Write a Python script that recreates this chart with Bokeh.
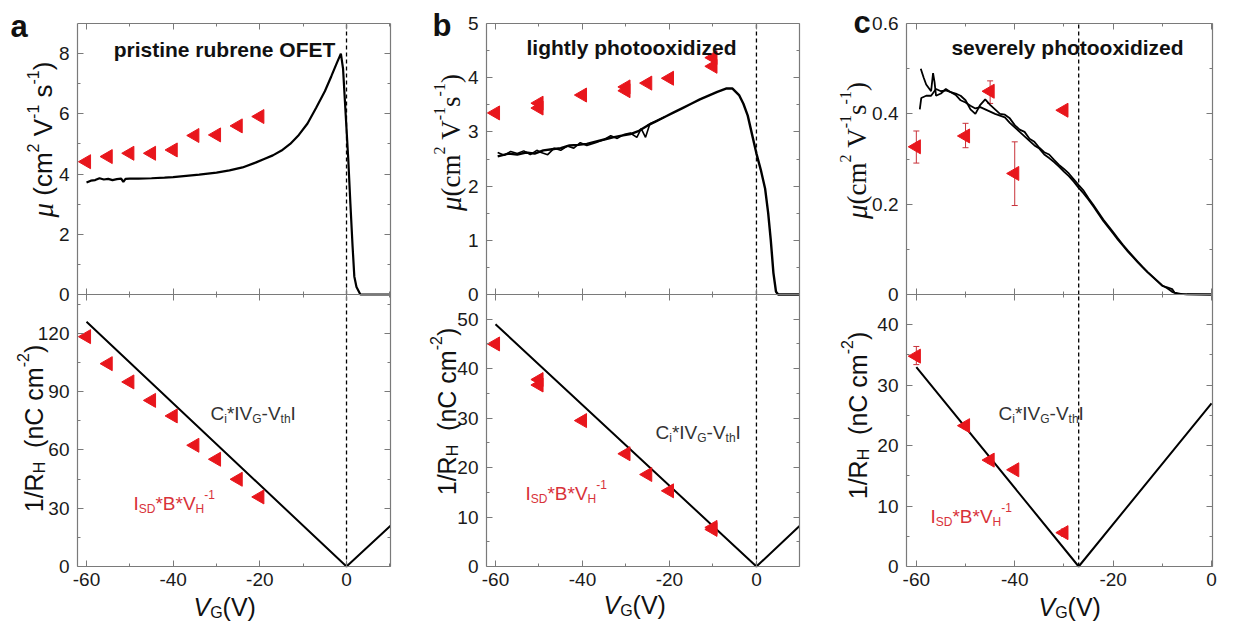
import numpy as np
from bokeh.plotting import figure
from bokeh.models import (Label, LinearAxis, FixedTicker, CustomJSTickFormatter,
                          ColumnDataSource, Whisker, TeeHead, Range1d)
from bokeh.embed import file_html
from bokeh.resources import INLINE

# ---------------- data ----------------
# panel a : pristine rubrene OFET
a_curve_vg = [-60, -59, -58, -57, -56, -55, -54, -53, -52, -51.5, -51, -50, -48, -45, -42, -40, -37, -34,
              -30, -27, -24, -21, -19, -17, -15, -13, -11, -9, -7, -5, -3.5, -2.2, -1.3, -0.8, -0.2,
              0.4, 0.9, 1.4, 1.8, 2.3, 3.2, 10.2]
a_curve_mu = [3.72, 3.78, 3.80, 3.86, 3.82, 3.84, 3.80, 3.83, 3.85, 3.74, 3.84, 3.85, 3.85, 3.86, 3.88, 3.90,
              3.94, 3.98, 4.05, 4.12, 4.22, 4.38, 4.50, 4.62, 4.78, 5.00, 5.30, 5.68, 6.20, 6.75, 7.25,
              7.70, 8.00, 7.50, 6.00, 4.50, 3.00, 1.60, 0.60, 0.25, 0.0, 0.0]
a_hall_vg = [-60, -55, -50, -45, -40, -35, -30, -25, -20]
a_hall_mu = [4.41, 4.58, 4.69, 4.69, 4.80, 5.28, 5.30, 5.60, 5.91]
a_hall_n = [118.3, 104.4, 95.0, 85.5, 77.5, 62.4, 55.2, 44.9, 35.8]
a_fit_vg = [-60, 0, 10.15]
a_fit_n = [126, 0, 21]

# panel b : lightly photooxidized
b_curve1_vg = [-59.5, -57, -55, -53, -51, -49, -47, -45, -43, -41, -39, -37, -35, -33, -31, -29, -27, -25,
               -23, -21, -19, -17, -15, -13, -11, -9, -7, -5.5, -4, -3, -2, -1, 0, 1, 2, 2.7, 3.3, 3.9,
               4.5, 5, 9.9]
b_curve1_mu = [2.55, 2.60, 2.58, 2.62, 2.60, 2.66, 2.68, 2.70, 2.75, 2.76, 2.78, 2.82, 2.86, 2.90, 2.93,
               2.96, 3.02, 3.12, 3.20, 3.28, 3.36, 3.44, 3.52, 3.60, 3.67, 3.74, 3.80, 3.80, 3.68, 3.52,
               3.30, 2.95, 2.60, 2.30, 1.95, 1.50, 1.00, 0.40, 0.05, 0.0, 0.0]
b_curve2_vg = [-59.5, -58, -56.5, -55, -53.5, -52, -50.5, -49.5, -48, -46.5, -45, -43.5, -42, -40.5, -39,
               -37, -35, -33.5, -32, -30.5, -29, -27.5, -26.5, -25.5, -24.5, -23, -21]
b_curve2_mu = [2.62, 2.57, 2.64, 2.60, 2.65, 2.58, 2.66, 2.62, 2.58, 2.70, 2.66, 2.74, 2.70, 2.80, 2.75,
               2.80, 2.86, 2.93, 2.88, 2.95, 2.98, 2.90, 3.06, 2.90, 3.15, 3.20, 3.28]
b_hall_vg = [-60, -50, -50, -40, -30, -30, -25, -20, -10, -10]
b_hall_mu = [3.35, 3.53, 3.44, 3.68, 3.83, 3.76, 3.90, 3.99, 4.37, 4.21]
b_hall_n_vg = [-60, -50, -50, -40, -30, -25, -20, -10, -10]
b_hall_n = [45.0, 37.8, 36.7, 29.5, 22.8, 18.6, 15.3, 7.9, 7.5]
b_fit_vg = [-60, 0, 9.9]
b_fit_n = [49, 0, 8.2]

# panel c : severely photooxidized
c_curve1_vg = [-59.3, -59, -58, -57, -56, -55, -54, -53, -52, -51, -50, -49, -48, -47, -46, -45, -44, -43,
               -42, -41, -40, -39, -38, -37, -36, -35, -34, -33, -32, -31, -30, -29, -28, -27, -26, -25,
               -24, -23, -22, -21, -20, -19, -18, -17, -16, -15, -14, -13, -12, -11, -10, -9, -8, -7,
               -5, 0]
c_curve1_mu = [0.410, 0.435, 0.440, 0.440, 0.455, 0.450, 0.452, 0.448, 0.445, 0.440, 0.430, 0.410, 0.400,
               0.420, 0.432, 0.420, 0.410, 0.400, 0.398, 0.390, 0.375, 0.365, 0.360, 0.345, 0.338, 0.325,
               0.315, 0.310, 0.298, 0.287, 0.278, 0.268, 0.255, 0.242, 0.230, 0.213, 0.198, 0.182, 0.166,
               0.152, 0.138, 0.124, 0.110, 0.097, 0.085, 0.073, 0.061, 0.050, 0.040, 0.030, 0.020, 0.014,
               0.006, 0.002, 0.0005, 0.0]
c_curve2_vg = [-59.1, -58.5, -58, -57, -56.6, -56.3, -56, -55, -54, -53, -52, -51, -50, -49, -48, -47, -46,
               -45, -44, -43, -42, -41, -40, -39, -38, -37, -36, -35, -34, -33, -32, -31, -30, -29, -28,
               -27, -26, -25, -24, -23, -22, -21, -20, -19, -18, -17, -16, -15, -14, -13, -12, -11, -10,
               -9, -8, -7.5, -6, 0]
c_curve2_mu = [0.500, 0.480, 0.465, 0.450, 0.490, 0.470, 0.440, 0.445, 0.455, 0.448, 0.442, 0.430, 0.425,
               0.418, 0.412, 0.415, 0.410, 0.405, 0.400, 0.396, 0.392, 0.380, 0.370, 0.360, 0.350, 0.340,
               0.330, 0.323, 0.310, 0.302, 0.293, 0.283, 0.272, 0.262, 0.250, 0.236, 0.224, 0.210, 0.195,
               0.179, 0.163, 0.149, 0.135, 0.121, 0.108, 0.095, 0.083, 0.071, 0.060, 0.049, 0.039, 0.029,
               0.019, 0.016, 0.012, 0.004, 0.001, 0.0]
c_hall_vg = [-60, -50, -45, -40, -30]
c_hall_mu = [0.327, 0.351, 0.450, 0.268, 0.408]
c_err_vg = [-60, -50, -45, -40]
c_err_lo = [0.291, 0.325, 0.423, 0.197]
c_err_hi = [0.362, 0.379, 0.473, 0.338]
c_hall_n = [34.8, 23.3, 17.6, 16.0, 5.6]
c_nerr_lo = [33.4, 22.8, 17.1, 15.6, 5.0]
c_nerr_hi = [36.4, 23.8, 18.1, 16.4, 6.2]
c_fit_vg = [-60, -27, 0]
c_fit_n = [33, 0, 27]

v_th = [0, 0, -27]
titles = ["pristine rubrene OFET", "lightly photooxidized", "severely photooxidized"]
letters = ["a", "b", "c"]
x_lims = [(-62.08, 10.15), (-62.07, 9.9), (-62.0, 0.2)]
top_lims = [(0, 9), (0, 5), (0, 0.6)]
bot_lims = [(0, 140), (0, 55), (0, 45)]
x_major = [-60, -40, -20, 0]
x_minor = [[-50, -30, -10, 10], [-50, -30, -10], [-50, -30, -10]]
top_major = [[0, 2, 4, 6, 8], [0, 1, 2, 3, 4, 5], [0, 0.2, 0.4, 0.6]]
top_minor = [[1, 3, 5, 7], [0.5, 1.5, 2.5, 3.5, 4.5], [0.1, 0.3, 0.5]]
bot_major = [[0, 30, 60, 90, 120], [0, 10, 20, 30, 40, 50], [0, 10, 20, 30, 40]]
bot_minor = [[15, 45, 75, 105, 135], [5, 15, 25, 35, 45], [5, 15, 25, 35]]

# ---------------- geometry (canvas pixels) ----------------
W, H = 1217, 626
BOX_X = [(77, 390), (486, 799), (906, 1212)]
TOP_Y = (23, 294)
BOT_Y = (294, 566)

SANS = "Liberation Sans"
SERIF = "Liberation Serif"
RED = "#e8161c"
RED_TXT = "#d8323a"
ERR = "#c8323a"
AX = "#7a7a7a"
BLK = "#111111"
GRY = "#333333"
NB = "\u00a0"

p = figure(width=W, height=H, x_range=Range1d(0, W), y_range=Range1d(0, H), title=None,
           output_backend="svg", toolbar_location=None, x_axis_type=None, y_axis_type=None,
           min_border=0, min_border_left=0, min_border_right=0, min_border_top=0,
           min_border_bottom=0)
p.outline_line_color = None
p.background_fill_color = "white"
p.border_fill_color = "white"


def add_box(name, xlim, ylim, xpx, ypx):
    (x0, x1), (L, R) = xlim, xpx
    (y0, y1), (T, B) = ylim, ypx
    sx = (x1 - x0) / (R - L)
    sy = (y1 - y0) / (B - T)
    p.extra_x_ranges[name] = Range1d(x0 - L * sx, x0 + (W - L) * sx)
    p.extra_y_ranges[name] = Range1d(y0 - (H - B) * sy, y1 + T * sy)


def fmt(show):
    return CustomJSTickFormatter(code="return String(tick);" if show else "return '';")


def ax(name, side, loc, bounds, ticks, minor, show, standoff=6):
    a = LinearAxis(x_range_name=name, y_range_name=name, fixed_location=loc, bounds=bounds,
                   ticker=FixedTicker(ticks=ticks, minor_ticks=minor), formatter=fmt(show),
                   axis_line_color=AX, axis_line_width=1.2, major_tick_line_color=AX,
                   minor_tick_line_color=AX, major_tick_in=6, major_tick_out=0, minor_tick_in=3,
                   minor_tick_out=0, major_label_text_font=SANS, major_label_text_font_size="19px",
                   major_label_text_color="#1a1a1a", major_label_standoff=standoff)
    p.add_layout(a, side)
    return a


for i in range(3):
    for part, ylim, ypx, ymaj, ymin in (("t", top_lims[i], TOP_Y, top_major[i], top_minor[i]),
                                         ("b", bot_lims[i], BOT_Y, bot_major[i], bot_minor[i])):
        nm = f"{part}{i}"
        add_box(nm, x_lims[i], ylim, BOX_X[i], ypx)
        xl = x_lims[i]
        ax(nm, "left", xl[0], ylim, ymaj, ymin, True, standoff=8)
        ax(nm, "right", xl[1], ylim, ymaj, ymin, False)
        ax(nm, "above", ylim[1], xl, x_major, x_minor[i], False)
        ax(nm, "below", ylim[0], xl, x_major, x_minor[i], part == "b", standoff=6)
        # threshold-voltage dashed line
        p.segment(x0=[v_th[i]], x1=[v_th[i]], y0=[ylim[0]], y1=[ylim[1]], x_range_name=nm,
                  y_range_name=nm, line_color="black", line_width=1.3, line_dash="4 3")


def tri(nm, xs, ys):
    p.scatter(xs, ys, marker="triangle", angle=np.pi / 2, size=14, fill_color=RED,
              line_color=RED, x_range_name=nm, y_range_name=nm)


def curve(nm, xs, ys, w=2.0):
    p.line(xs, ys, line_color="black", line_width=w, x_range_name=nm, y_range_name=nm)


def whisk(nm, xs, lo, hi):
    src = ColumnDataSource(dict(x=xs, lo=lo, hi=hi))
    p.add_layout(Whisker(source=src, base="x", lower="lo", upper="hi", dimension="height",
                         x_range_name=nm, y_range_name=nm, line_color=ERR, line_width=1,
                         upper_head=TeeHead(size=6, line_color=ERR, line_width=1),
                         lower_head=TeeHead(size=6, line_color=ERR, line_width=1)))


# --- panel a ---
curve("t0", a_curve_vg, a_curve_mu, 2.2)
tri("t0", a_hall_vg, a_hall_mu)
curve("b0", a_fit_vg, a_fit_n)
tri("b0", a_hall_vg, a_hall_n)
# --- panel b ---
curve("t1", b_curve1_vg, b_curve1_mu, 2.4)
curve("t1", b_curve2_vg, b_curve2_mu, 1.6)
tri("t1", b_hall_vg, b_hall_mu)
curve("b1", b_fit_vg, b_fit_n)
tri("b1", b_hall_n_vg, b_hall_n)
# --- panel c ---
curve("t2", c_curve1_vg, c_curve1_mu, 1.8)
curve("t2", c_curve2_vg, c_curve2_mu, 1.8)
whisk("t2", c_err_vg, c_err_lo, c_err_hi)
tri("t2", c_hall_vg, c_hall_mu)
whisk("b2", c_hall_vg, c_nerr_lo, c_nerr_hi)
curve("b2", c_fit_vg, c_fit_n)
tri("b2", c_hall_vg, c_hall_n)

# ---------------- texts ----------------
W_SANS = {' ': .278, NB: .278, '(': .333, ')': .333, '*': .389, '-': .333, '/': .278, '1': .556,
          '2': .556, '0': .556, 'B': .667, 'C': .722, 'D': .722, 'G': .778, 'H': .722, 'I': .278,
          'R': .722, 'S': .667, 'V': .667, 'c': .5, 'h': .556, 'i': .222, 'm': .833, 'n': .556,
          's': .5, 't': .278, 'μ': .5}
W_SERIF = {' ': .25, NB: .25, '(': .333, ')': .333, '-': .333, '1': .5, '2': .5, 'V': .722,
           'c': .444, 'm': .778, 's': .389, 'μ': .5}


def seg_width(txt, size, fam):
    table = W_SERIF if fam == SERIF else W_SANS
    return sum(table.get(ch, .55) for ch in txt) * size


def label(x, y, text, size, fam=SANS, style="normal", color=BLK, align="left", angle=0.0):
    p.add_layout(Label(x=x, y=H - y, x_units="screen", y_units="screen", text=text,
                       text_font=fam, text_font_size=f"{size}px", text_font_style=style,
                       text_color=color, angle=angle, text_align=align,
                       text_baseline="alphabetic"))


def rich(x, y, segs, vertical=False):
    """x,y canvas px from top-left; horizontal: left start/baseline; vertical: baseline x/centre y"""
    total = sum(seg_width(s[0], s[1], s[3]) for s in segs)
    adv = -total / 2 if vertical else 0.0
    for txt, size, shift, fam, style, color in segs:
        if vertical:
            lx, ly = x - shift, y - adv
        else:
            lx, ly = x + adv, y - shift
        label(lx, ly, txt, size, fam, style, color, angle=np.pi / 2 if vertical else 0.0)
        adv += seg_width(txt, size, fam)


for t, (tx, ty) in zip(titles, [(224, 49), (631, 47), (1067, 47)]):
    label(tx, ty, t, 21, style="bold", align="center")
for L, (lx, ly) in zip(letters, [(10, 26), (432, 25), (853, 22)]):
    label(lx, ly, L, 31, style="bold")

# y labels, mobility
rich(42, 139, [("μ", 29, 0, SERIF, "italic", BLK), (NB + "(cm", 26, 0, SANS, "normal", BLK),
               ("2", 16, 10, SANS, "normal", BLK), (NB + "V", 26, 0, SANS, "normal", BLK),
               ("-1", 16, 10, SANS, "normal", BLK), (NB + "s", 26, 0, SANS, "normal", BLK),
               ("-1", 16, 10, SANS, "normal", BLK), (")", 26, 0, SANS, "normal", BLK)],
     vertical=True)
for bx, cy in ((450, 142), (856, 150)):
    rich(bx, cy, [("μ", 29, 0, SERIF, "italic", BLK), ("(cm", 27, 0, SERIF, "normal", BLK),
                  ("2", 16, 11, SERIF, "normal", BLK), (NB + "V", 27, 0, SERIF, "normal", BLK),
                  ("-1", 16, 11, SERIF, "normal", BLK), ("s", 27, 0, SERIF, "normal", BLK),
                  ("-1", 16, 11, SERIF, "normal", BLK), (")", 27, 0, SERIF, "normal", BLK)],
         vertical=True)
# y labels, 1/R_H
for bx, cy in ((33, 428), (446, 411), (857, 415)):
    rich(bx, cy, [("1/R", 25, 0, SANS, "normal", BLK), ("H", 16, -6, SANS, "normal", BLK),
                  (NB + NB + "(nC cm", 25, 0, SANS, "normal", BLK),
                  ("-2", 16, 11, SANS, "normal", BLK), (")", 25, 0, SANS, "normal", BLK)],
         vertical=True)
# x labels
for sx, sy in ((193, 606), (603, 604), (1038, 606)):
    rich(sx, sy, [("V", 25, 0, SANS, "italic", BLK), ("G", 16, -6, SANS, "normal", BLK),
                  ("(V)", 25, 0, SANS, "normal", BLK)])
# in-plot annotations
for sx, sy in ((210, 413), (655, 432), (998, 413)):
    rich(sx, sy, [("C", 19, 0, SANS, "normal", GRY), ("i", 12, -5, SANS, "normal", GRY),
                  ("*IV", 19, 0, SANS, "normal", GRY), ("G", 12, -5, SANS, "normal", GRY),
                  ("-V", 19, 0, SANS, "normal", GRY), ("th", 12, -5, SANS, "normal", GRY),
                  ("I", 19, 0, SANS, "normal", GRY)])
for sx, sy in ((133, 503), (525, 493), (930, 516)):
    rich(sx, sy, [("I", 19, 0, SANS, "normal", RED_TXT), ("SD", 12, -5, SANS, "normal", RED_TXT),
                  ("*B*V", 19, 0, SANS, "normal", RED_TXT), ("H", 12, -5, SANS, "normal", RED_TXT),
                  ("-1", 12, 9, SANS, "normal", RED_TXT)])

open("out.html", "w").write(file_html(p, INLINE))
